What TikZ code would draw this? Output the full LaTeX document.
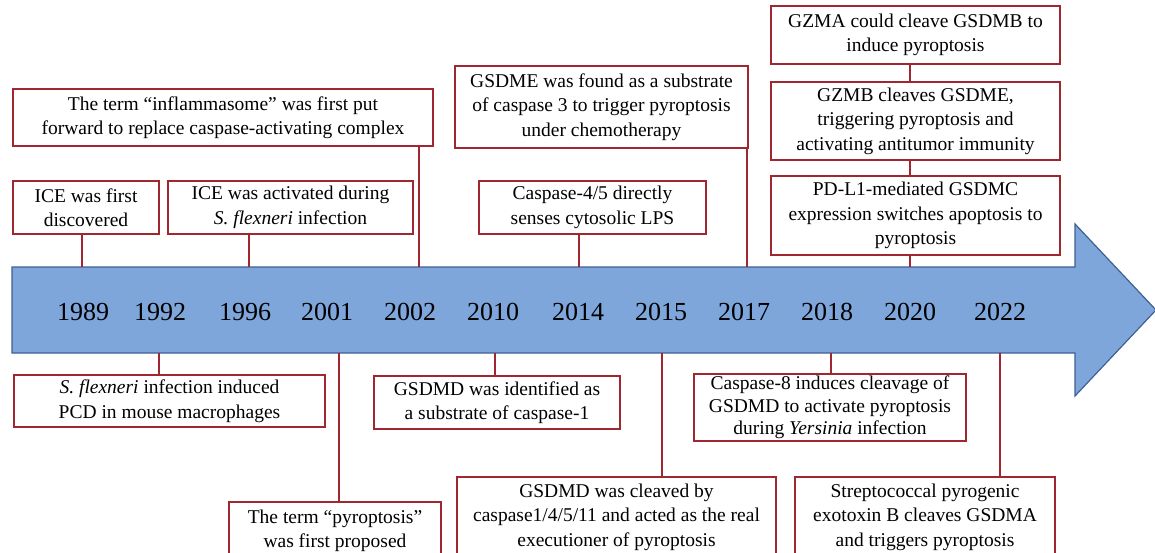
\documentclass[tikz,border=0pt]{standalone}
\usepackage{fontspec}
\setmainfont{Liberation Serif}
\definecolor{boxred}{RGB}{160,38,48}
\definecolor{arrowfill}{RGB}{126,166,219}
\definecolor{arrowline}{RGB}{62,96,146}
\tikzset{
  ebox/.style={draw=boxred, line width=2.4pt, fill=white, align=center, inner sep=2pt,
    font=\fontsize{19.5}{24.5}\selectfont},
  yearlabel/.style={font=\fontsize{26}{30}\selectfont, inner sep=0pt},
  conn/.style={draw=boxred, line width=2pt},
}
\begin{document}
\begin{tikzpicture}[x=1pt,y=-1pt]
\useasboundingbox (0,0) rectangle (1155,552);
\clip (0,0) rectangle (1155,552);
% timeline arrow
\path[fill=arrowfill, draw=arrowline, line width=1.2pt]
  (12,267) -- (1075,267) -- (1075,224) -- (1156,310) -- (1075,396) -- (1075,353) -- (12,353) -- cycle;
% years
\node[yearlabel] (y1989) at (83,312) {1989};
\node[yearlabel] (y1992) at (160,312) {1992};
\node[yearlabel] (y1996) at (245,312) {1996};
\node[yearlabel] (y2001) at (327,312) {2001};
\node[yearlabel] (y2002) at (410,312) {2002};
\node[yearlabel] (y2010) at (493,312) {2010};
\node[yearlabel] (y2014) at (578,312) {2014};
\node[yearlabel] (y2015) at (661,312) {2015};
\node[yearlabel] (y2017) at (744,312) {2017};
\node[yearlabel] (y2018) at (827,312) {2018};
\node[yearlabel] (y2020) at (910,312) {2020};
\node[yearlabel] (y2022) at (1000,312) {2022};
% attachment points on the arrow
\coordinate (tA) at (82,267);
\coordinate (tB) at (249,267);
\coordinate (tC) at (419,267);
\coordinate (tD) at (579,267);
\coordinate (tE) at (747,267);
\coordinate (tF) at (910,267);
\coordinate (bA) at (159,353);
\coordinate (bB) at (339,353);
\coordinate (bC) at (495,353);
\coordinate (bD) at (662,353);
\coordinate (bE) at (831,353);
\coordinate (bF) at (1000,353);
% connectors (drawn first, boxes on top)
\draw[conn] (tA) -- (82,220);
\draw[conn] (tB) -- (249,220);
\draw[conn] (tC) -- (419,130);
\draw[conn] (tD) -- (579,220);
\draw[conn] (tE) -- (747,130);
\draw[conn] (tF) -- (910,30);
\draw[conn] (bA) -- (159,390);
\draw[conn] (bB) -- (339,520);
\draw[conn] (bC) -- (495,390);
\draw[conn] (bD) -- (662,500);
\draw[conn] (bE) -- (831,390);
\draw[conn] (bF) -- (1000,500);
% top boxes
\node[ebox, minimum width=420pt, minimum height=57pt] (infl) at (223,117.5)
  {The term “inflammasome” was first put\\forward to replace caspase-activating complex};
\node[ebox, minimum width=146pt, minimum height=53pt] (ice1) at (86,207.5)
  {ICE was first\\discovered};
\node[ebox, minimum width=245pt, minimum height=53pt] (ice2) at (290.5,207.5)
  {ICE was activated during\\\textit{S. flexneri} infection};
\node[ebox, minimum width=293pt, minimum height=82pt] (gsdme) at (601.5,107)
  {GSDME was found as a substrate\\of caspase 3 to trigger pyroptosis\\under chemotherapy};
\node[ebox, minimum width=227pt, minimum height=53pt] (casp45) at (592.5,207.5)
  {Caspase-4/5 directly\\senses cytosolic LPS};
\node[ebox, minimum width=289pt, minimum height=58pt] (gzma) at (915.5,35)
  {GZMA could cleave GSDMB to\\induce pyroptosis};
\node[ebox, minimum width=289pt, minimum height=78pt] (gzmb) at (915.5,121)
  {GZMB cleaves GSDME,\\triggering pyroptosis and\\activating antitumor immunity};
\node[ebox, minimum width=289pt, minimum height=79pt] (pdl1) at (915.5,215.5)
  {PD-L1-mediated GSDMC\\expression switches apoptosis to\\pyroptosis};
% bottom boxes
\node[ebox, minimum width=311pt, minimum height=52pt] (sflex) at (169.5,401)
  {\textit{S. flexneri} infection induced\\PCD in mouse macrophages};
\node[ebox, minimum width=212pt, minimum height=58pt] (pyro) at (335,531)
  {The term “pyroptosis”\\was first proposed};
\node[ebox, minimum width=246pt, minimum height=53pt] (gsdmd1) at (497,402.5)
  {GSDMD was identified as\\a substrate of caspase-1};
\node[ebox, minimum width=319pt, minimum height=80pt] (gsdmd2) at (616.5,517)
  {GSDMD was cleaved by\\caspase1/4/5/11 and acted as the real\\executioner of pyroptosis};
\node[ebox, minimum width=272pt, minimum height=67pt, font=\fontsize{19.5}{22.5}\selectfont] (casp8) at (830,407.5)
  {Caspase-8 induces cleavage of\\GSDMD to activate pyroptosis\\during \textit{Yersinia} infection};
\node[ebox, minimum width=260pt, minimum height=80pt] (strep) at (925,517)
  {Streptococcal pyrogenic\\exotoxin B cleaves GSDMA\\and triggers pyroptosis};
\end{tikzpicture}
\end{document}
